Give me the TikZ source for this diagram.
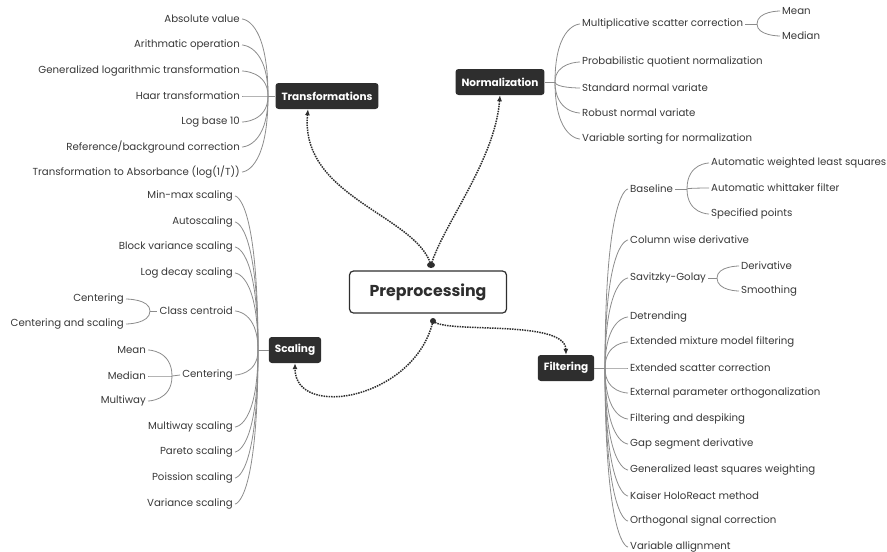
\documentclass[tikz,border=0pt]{standalone}
\usepackage{fontspec}
\setmainfont{Poppins}
\usetikzlibrary{arrows.meta}
\definecolor{boxgray}{HTML}{2E2E2E}
\definecolor{leafgray}{HTML}{383838}
\definecolor{linegray}{HTML}{8C8C8C}
\tikzset{
  topic/.style={fill=boxgray, text=white, font=\bfseries\fontsize{10.5}{12}\selectfont,
    rounded corners=3pt, minimum height=26pt, inner xsep=6pt},
  leaf/.style={text=leafgray, font=\fontsize{10.2}{12}\selectfont, inner sep=2pt},
  link/.style={linegray, line width=0.8pt},
  flow/.style={boxgray, densely dotted, line width=1.5pt, -{Latex[length=6pt,width=5pt]}},
}
\newcommand\twig[2]{\draw[link] (#1) .. controls (#1 |- #2) and (#2) .. (#2);}

\begin{document}
\begin{tikzpicture}[x=1pt, y=-1pt]
    \useasboundingbox (0,0) rectangle (887,552);
    \node[draw=boxgray, line width=1.2pt, rounded corners=4pt, minimum width=157pt, minimum height=42pt,
      font=\bfseries\fontsize{15.8}{18}\selectfont, text=boxgray] (prep) at (428,292) {Preprocessing};
    \node[topic] (trans) at (327,96) {Transformations};
    \node[topic] (norm) at (500,82) {Normalization};
    \node[topic] (scal) at (295,350) {Scaling};
    \node[topic] (filt) at (566,368) {Filtering};
    \fill[boxgray] (431,265) ellipse (4 and 3);
    \fill[boxgray] (433,321) circle (3);
    \coordinate (dt) at (431,265);
    \coordinate (db) at (433,321);
    \draw[flow] (dt) .. controls +(-15,-50) and +(-8,88) .. ([xshift=-19pt]trans.south);
    \draw[flow] (dt) .. controls +(12,-40) and +(-5,65) .. (norm.south);
    \draw[flow] (db) .. controls +(-18,78) and +(0,57) .. (scal.south);
    \draw[flow] (db) .. controls +(12,13) and +(-1,-36) .. (filt.north);
    % transformations
    \coordinate (jt) at (268,96);
    \draw[link] (jt) -- (trans.west);
    \foreach \y/\t [count=\i] in {19/Absolute value, 45/Arithmatic operation,
        71/Generalized logarithmic transformation, 96/Haar transformation, 122/Log base 10,
        147/{Reference/background correction~}, 172/{Transformation to Absorbance (log(1/T))}} {
        \node[leaf, anchor=east] (tr\i) at (242,\y) {\t};
        \twig{jt}{tr\i.east}
    }
    % normalization
    \coordinate (jn) at (555,82);
    \draw[link] (norm.east) -- (jn);
    \foreach \y/\t [count=\i] in {24/Multiplicative scatter correction, 62/Probabilistic quotient normalization,
        88/Standard normal variate, 113/Robust normal variate, 139/Variable sorting for normalization} {
        \node[leaf, anchor=west] (nr\i) at (580,\y) {\t};
        \twig{jn}{nr\i.west}
    }
    \coordinate (jm) at (757,24);
    \draw[link] (nr1.east) -- (jm);
    \foreach \y/\t [count=\i] in {11/Mean, 36/Median} {
        \node[leaf, anchor=west] (ms\i) at (780,\y) {\t};
        \twig{jm}{ms\i.west}
    }
    % filtering
    \coordinate (jf) at (605,368);
    \draw[link] (filt.east) -- (jf);
    \foreach \y/\t [count=\i] in {189/Baseline, 240/Column wise derivative, 278/Savitzky-Golay,
        317/Detrending, 342/Extended mixture model filtering, 368/Extended scatter correction,
        393/External parameter orthogonalization, 419/Filtering and despiking, 444/Gap segment derivative,
        470/Generalized least squares weighting, 496/Kaiser HoloReact method,
        521/Orthogonal signal correction, 547/Variable allignment} {
        \node[leaf, anchor=west] (fl\i) at (628,\y) {\t};
        \twig{jf}{fl\i.west}
    }
    \coordinate (jb) at (687,189);
    \draw[link] (fl1.east) -- (jb);
    \foreach \y/\t [count=\i] in {163/Automatic weighted least squares, 188/Automatic whittaker filter,
        214/Specified points} {
        \node[leaf, anchor=west] (bl\i) at (709,\y) {\t};
        \twig{jb}{bl\i.west}
    }
    \coordinate (js) at (717,278);
    \draw[link] (fl3.east) -- (js);
    \foreach \y/\t [count=\i] in {266/Derivative, 291/Smoothing} {
        \node[leaf, anchor=west] (sg\i) at (739,\y) {\t};
        \twig{js}{sg\i.west}
    }
    % scaling
    \coordinate (jsc) at (258,350);
    \draw[link] (jsc) -- (scal.west);
    \foreach \y/\t [count=\i] in {196/Min-max scaling, 222/Autoscaling, 247/Block variance scaling,
        273/Log decay scaling, 311/Class centroid, 375/Centering, 427/Multiway scaling,
        452/Pareto scaling, 478/Poission scaling, 504/Variance scaling} {
        \node[leaf, anchor=east] (sc\i) at (235,\y) {\t};
        \twig{jsc}{sc\i.east}
    }
    \coordinate (jcc) at (150,311);
    \draw[link] (jcc) -- (sc5.west);
    \foreach \y/\t [count=\i] in {299/Centering, 324/Centering and scaling} {
        \node[leaf, anchor=east] (cc\i) at (126,\y) {\t};
        \twig{jcc}{cc\i.east}
    }
    \coordinate (jce) at (172,376);
    \draw[link] (jce) -- (sc6.west);
    \foreach \y/\t [count=\i] in {350/Mean, 376/Median, 401/Multiway} {
        \node[leaf, anchor=east] (ce\i) at (148,\y) {\t};
        \twig{jce}{ce\i.east}
    }
\end{tikzpicture}
\end{document}
